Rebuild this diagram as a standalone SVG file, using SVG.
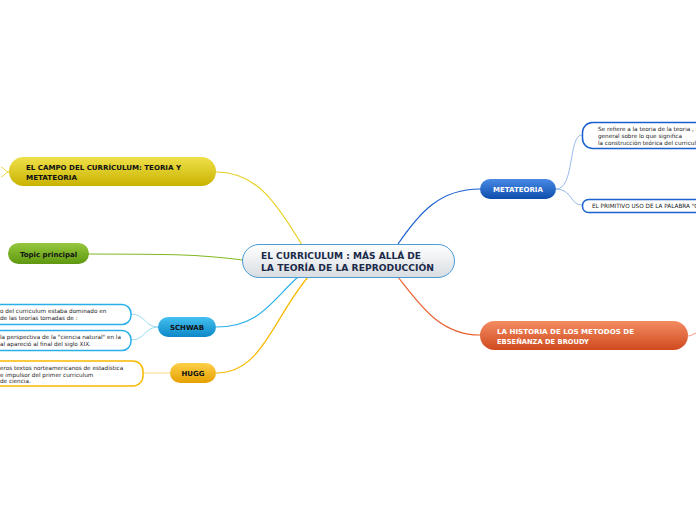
<svg xmlns="http://www.w3.org/2000/svg" width="696" height="520" viewBox="0 0 696 520">
<style>
text{font-family:"DejaVu Sans",Verdana,sans-serif;}
.b{font-weight:bold;}
.leaf{fill:#fff;stroke-width:1.5;}
.lt{font-size:5.7px;fill:#1a1a1a;}
.c{fill:none;stroke-width:1.2;}
.s{fill:none;stroke-width:0.8;}
</style>
<defs>
<linearGradient id="gC" x1="0" y1="0" x2="0" y2="1"><stop offset="0" stop-color="#ffffff"/><stop offset="1" stop-color="#d8dde2"/></linearGradient>
<linearGradient id="gY" x1="0" y1="0" x2="0" y2="1"><stop offset="0" stop-color="#efe04a"/><stop offset="1" stop-color="#c9b300"/></linearGradient>
<linearGradient id="gG" x1="0" y1="0" x2="0" y2="1"><stop offset="0" stop-color="#96c83e"/><stop offset="1" stop-color="#5e9810"/></linearGradient>
<linearGradient id="gS" x1="0" y1="0" x2="0" y2="1"><stop offset="0" stop-color="#44c0f0"/><stop offset="1" stop-color="#0c88c8"/></linearGradient>
<linearGradient id="gH" x1="0" y1="0" x2="0" y2="1"><stop offset="0" stop-color="#fdd048"/><stop offset="1" stop-color="#e6a000"/></linearGradient>
<linearGradient id="gM" x1="0" y1="0" x2="0" y2="1"><stop offset="0" stop-color="#4a8ae6"/><stop offset="1" stop-color="#0c4cac"/></linearGradient>
<linearGradient id="gR" x1="0" y1="0" x2="0" y2="1"><stop offset="0" stop-color="#f48c62"/><stop offset="1" stop-color="#cf4a1e"/></linearGradient>
</defs>
<rect width="696" height="520" fill="#ffffff"/>
<g id="connectors">
<path class="c" stroke="#e8d020" d="M216 172 C255 172 275 200 302 245"/>
<path class="c" stroke="#80b820" d="M89 254 C160 254 200 254 243 260"/>
<path class="c" stroke="#2ab0e8" d="M216 327 C260 327 272 300 298 277"/>
<path class="c" stroke="#f8b800" d="M216 373 C262 373 272 320 308 277"/>
<path class="c" stroke="#1a60d0" d="M398 244 C420 212 440 189 480 189"/>
<path class="c" stroke="#e86030" d="M398 277 C420 305 440 335 480 335"/>
<path class="s" stroke="#80a8e8" d="M556 189 C575 189 568 135 582 135"/>
<path class="s" stroke="#80a8e8" d="M556 189 C572 189 570 205 582 205"/>
<path class="s" stroke="#80d0f0" d="M158 327 C145 327 145 314 131 314"/>
<path class="s" stroke="#80d0f0" d="M158 327 C145 327 145 340 131 340"/>
<path class="s" stroke="#f8d060" d="M170 373 L143 373"/>
<path class="s" stroke="#e8d020" d="M9 172 C6 172 4 168 1 167 M9 172 C6 172 4 176 1 177"/>
<path class="s" stroke="#f08060" d="M688 336 C691 336 693 334 696 333"/>
</g>
<g id="central">
<rect x="242.5" y="244.5" width="212" height="33" rx="16.5" fill="url(#gC)" stroke="#4a9bd6" stroke-width="1"/>
<text class="b" x="261" y="259" font-size="8.6" fill="#1c2a4a" textLength="160" lengthAdjust="spacingAndGlyphs">EL CURRICULUM : MÁS ALLÁ DE</text>
<text class="b" x="261" y="271" font-size="8.6" fill="#1c2a4a" textLength="173" lengthAdjust="spacingAndGlyphs">LA TEORÍA DE LA REPRODUCCIÓN</text>
</g>
<g id="campo">
<rect x="9" y="157" width="207" height="29" rx="14.5" fill="url(#gY)"/>
<text class="b" x="26" y="170" font-size="6.8" fill="#111" textLength="155" lengthAdjust="spacingAndGlyphs">EL CAMPO DEL CURRÍCULUM: TEORIA Y</text>
<text class="b" x="26" y="180" font-size="6.8" fill="#111" textLength="51" lengthAdjust="spacingAndGlyphs">METATEORIA</text>
</g>
<g id="topic">
<rect x="8" y="243" width="81" height="21" rx="10.5" fill="url(#gG)"/>
<text class="b" x="48.5" y="257" font-size="7" fill="#111" text-anchor="middle">Topic principal</text>
</g>
<g id="schwab">
<rect x="158" y="317" width="58" height="20" rx="10" fill="url(#gS)"/>
<text class="b" x="187" y="330" font-size="7" fill="#111" text-anchor="middle">SCHWAB</text>
</g>
<g id="hugg">
<rect x="170" y="363" width="46" height="20" rx="10" fill="url(#gH)"/>
<text class="b" x="193" y="376" font-size="7" fill="#111" text-anchor="middle">HUGG</text>
</g>
<g id="metateoria">
<rect x="480" y="179" width="76" height="20" rx="10" fill="url(#gM)"/>
<text class="b" x="518" y="192" font-size="7" fill="#fff" text-anchor="middle">METATEORIA</text>
</g>
<g id="broudy">
<rect x="480" y="321" width="208" height="29" rx="14.5" fill="url(#gR)"/>
<text class="b" x="497" y="334" font-size="6.8" fill="#fff" textLength="137" lengthAdjust="spacingAndGlyphs">LA HISTORIA DE LOS METODOS DE</text>
<text class="b" x="497" y="344" font-size="6.8" fill="#fff" textLength="92" lengthAdjust="spacingAndGlyphs">EBSEÑANZA DE BROUDY</text>
</g>
<g id="meta-leaf1">
<rect class="leaf" x="582.5" y="122.5" width="140" height="26" rx="10" stroke="#1a60d0"/>
<text class="lt" x="598" y="131">Se refiere a la teoria  de la teoria , a</text>
<text class="lt" x="598" y="138">general sobre lo que significa</text>
<text class="lt" x="598" y="145" textLength="98" lengthAdjust="spacingAndGlyphs">la construcción teórica del curricul</text>
</g>
<g id="meta-leaf2">
<rect class="leaf" x="582.5" y="199.5" width="140" height="13" rx="6" stroke="#1a60d0"/>
<text class="lt" x="592" y="208">EL PRIMITIVO USO DE LA PALABRA "C</text>
</g>
<g id="schwab-leaf1">
<rect class="leaf" x="-20" y="304.5" width="151" height="20" rx="9" stroke="#2ab0e8"/>
<text class="lt" x="0" y="313">o del curriculum  estaba dominado en</text>
<text class="lt" x="0" y="320">de las teorías tomadas  de :</text>
</g>
<g id="schwab-leaf2">
<rect class="leaf" x="-20" y="330.5" width="151" height="20" rx="9" stroke="#2ab0e8"/>
<text class="lt" x="0" y="339">la perspectiva  de la "ciencia natural" en la</text>
<text class="lt" x="0" y="346">al apareció al final del siglo XIX.</text>
</g>
<g id="hugg-leaf">
<rect class="leaf" x="-20" y="361" width="163" height="25" rx="10" stroke="#f8b800"/>
<text class="lt" x="0" y="370">eros textos  norteamericanos  de estadística</text>
<text class="lt" x="0" y="377">  e impulsor  del primer curriculum</text>
<text class="lt" x="0" y="383">de ciencia.</text>
</g>
</svg>
